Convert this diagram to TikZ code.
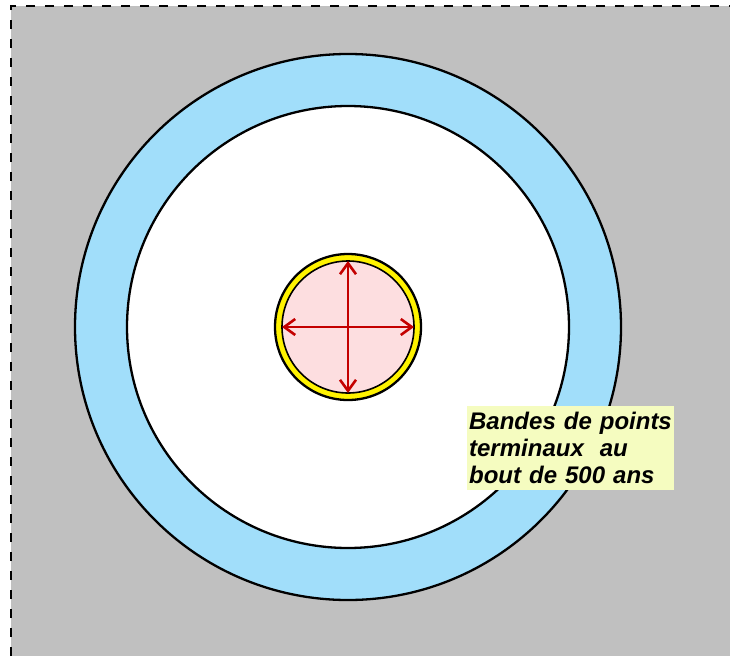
\documentclass[tikz,border=0pt]{standalone}
\usepackage{fontspec}
\newfontfamily\labelfont{Liberation Sans}
\usepackage{tikz}
\usetikzlibrary{shapes, positioning, arrows.meta, calc}

\definecolor{bggray}{RGB}{192,192,192}
\definecolor{ringblue}{RGB}{161,222,250}
\definecolor{corepink}{RGB}{253,222,224}
\definecolor{arrowred}{RGB}{196,0,0}
\definecolor{notefill}{RGB}{245,252,192}

\begin{document}
\begin{tikzpicture}[
    x=1pt, y=-1pt,
    > = {Straight Barb[length=11pt, width=16pt]}, line width=2.3pt,
    disc/.style={circle, draw, inner sep=0pt, outer sep=0pt},
    axis/.style={<->, arrowred, line width=2.6pt},
    note/.style={fill=notefill, anchor=north west, align=left, text width=203pt,
                 inner xsep=2pt, inner ysep=6pt,
                 font=\labelfont\bfseries\itshape\fontsize{24}{27}\selectfont}
]
    \useasboundingbox (0,0) rectangle (730,656);
    % background
    \fill[bggray] (11,6) rectangle (730,656);
    \draw[line width=1.4pt, dash pattern=on 9pt off 10pt] (11,656) -- (11,6) -- (730,6);

    \node[disc, fill=ringblue, minimum size=546pt] (band) at (348,327) {};
    \node[disc, fill=white, minimum size=442pt] (inner) at (band.center) {};
    \node[disc, fill=yellow, minimum size=146pt] (rim) at (band.center) {};
    \node[disc, fill=corepink, line width=1.6pt, minimum size=132pt] (core) at (band.center) {};

    \draw[axis] (core.west) -- (core.east);
    \draw[axis] (core.north) -- (core.south);

    \node[note] (label) at (466,405) {Bandes de points\\terminaux\ \ au\\bout de 500 ans};
\end{tikzpicture}
\end{document}
